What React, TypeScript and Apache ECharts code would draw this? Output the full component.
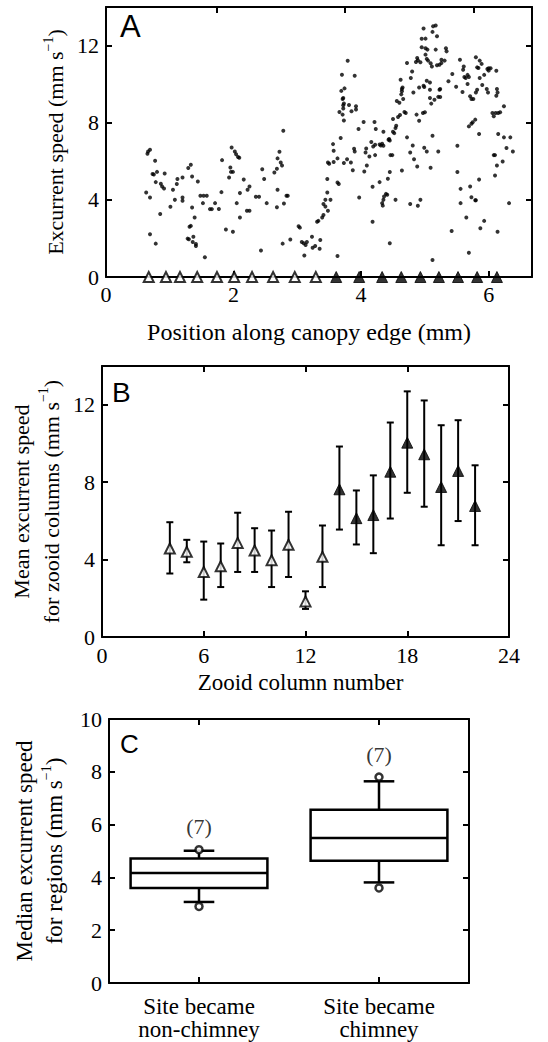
import React, { useEffect, useRef } from 'react';
import * as echarts from 'echarts';

const SERIF = 'Liberation Serif, serif';
const SANS = 'Liberation Sans, sans-serif';

// Panel A: excurrent speed vs position along canopy edge (mm, mm/s)
const scatterA: [number, number][] = [
  [0.66, 6.51], [0.69, 6.6], [0.65, 6.39], [0.77, 6.03], [0.73, 5.34], [0.75, 5.31], [0.8, 5.45], [0.92, 5.37], [0.78, 4.92], [0.86, 4.83],
  [0.88, 4.69], [0.91, 4.59], [0.63, 4.38], [0.69, 4.12], [1.05, 4.52], [1.11, 4.82], [1.12, 5.08], [1.2, 5.16], [1.29, 5.65], [1.33, 5.82],
  [1.35, 5.21], [1.44, 4.95], [1.08, 4.0], [1.2, 4.12], [1.2, 3.95], [1.01, 3.64], [0.85, 3.27], [1.48, 4.21], [1.53, 4.21], [1.58, 4.21],
  [1.52, 3.83], [1.63, 3.52], [1.66, 3.52], [1.71, 3.83], [1.77, 3.53], [1.35, 3.6], [1.39, 3.08], [1.31, 2.61], [1.33, 2.65], [0.69, 2.22],
  [0.78, 1.73], [1.28, 1.99], [1.3, 1.96], [1.37, 2.09], [1.41, 1.71], [1.36, 1.82], [1.41, 1.61], [1.55, 1.02],
  [1.81, 4.4], [1.82, 6.06], [1.88, 2.46], [1.93, 5.16], [1.95, 5.68], [1.96, 5.45], [1.99, 5.45], [1.97, 6.72], [2.02, 6.51], [2.04, 6.37],
  [2.07, 6.22], [2.09, 6.18], [1.99, 2.35], [2.05, 3.83], [2.1, 4.35], [2.1, 3.08], [2.16, 5.05], [2.21, 3.44], [2.25, 3.44], [2.22, 4.52],
  [2.25, 4.69], [2.35, 4.16], [2.4, 4.16], [2.43, 1.37], [2.45, 5.59], [2.48, 5.08], [2.52, 3.83], [2.64, 5.42], [2.68, 5.61], [2.69, 4.52],
  [2.69, 6.15], [2.72, 6.49], [2.74, 5.94], [2.76, 5.78], [2.78, 7.58], [2.68, 3.62], [2.79, 3.81], [2.83, 4.21], [2.85, 4.21], [2.77, 1.73],
  [2.89, 1.94], [3.02, 2.63], [3.04, 2.56], [3.07, 1.82], [3.1, 1.75], [3.13, 1.66], [3.15, 1.82], [3.11, 1.11], [3.23, 2.09], [3.24, 1.52],
  [3.28, 1.61], [3.35, 1.47], [3.36, 1.92], [3.31, 2.87], [3.33, 2.91], [3.39, 3.08], [3.41, 3.22], [3.41, 3.79], [3.44, 4.0], [3.48, 3.44],
  [3.47, 4.38], [3.47, 5.08], [3.48, 5.94], [3.5, 5.87], [3.44, 3.65],
  [3.52, 4.0], [3.57, 5.96], [3.57, 6.55], [3.56, 6.89], [3.63, 4.9], [3.65, 4.82], [3.63, 1.09], [3.63, 6.15], [3.68, 7.21], [3.73, 5.91],
  [3.78, 6.11], [3.84, 5.94], [3.87, 5.54], [3.66, 8.56], [3.71, 8.42], [3.72, 8.74], [3.72, 8.9], [3.73, 9.0], [3.71, 9.23], [3.72, 9.28],
  [3.69, 9.65], [3.74, 9.78], [3.7, 10.49], [3.79, 11.21], [3.9, 10.44], [3.73, 8.12], [3.81, 8.92], [3.85, 8.59], [3.92, 8.68], [3.92, 8.85],
  [3.89, 6.65], [3.9, 6.51], [3.96, 7.67], [4.04, 8.04], [3.97, 4.12], [4.05, 5.47], [4.07, 6.46], [4.08, 6.66], [4.09, 5.78], [4.13, 6.25],
  [4.16, 7.0], [4.18, 4.68], [4.18, 2.87], [4.19, 6.77], [4.22, 6.86], [4.22, 6.32], [4.21, 8.04], [4.23, 7.67], [4.29, 4.92], [4.29, 6.87],
  [4.31, 6.82], [4.33, 6.91], [4.35, 6.81], [4.33, 3.83], [4.35, 4.0], [4.34, 3.7], [4.36, 4.17], [4.39, 4.31], [4.41, 4.26], [4.42, 5.09],
  [4.35, 7.53], [4.43, 7.12], [4.44, 7.15], [4.45, 7.08], [4.46, 6.32], [4.49, 6.32], [4.45, 1.75], [4.45, 5.44], [4.5, 7.53], [4.52, 7.46],
  [4.5, 8.19], [4.54, 7.72], [4.55, 7.84], [4.54, 4.0], [4.58, 8.3], [4.56, 9.13], [4.6, 9.04], [4.61, 8.4], [4.64, 5.52], [4.63, 9.47],
  [4.64, 9.63], [4.65, 9.83], [4.62, 10.23], [4.64, 9.75], [4.66, 9.23], [4.68, 8.56], [4.7, 8.5], [4.72, 11.1], [4.78, 10.32], [4.8, 10.66],
  [4.72, 7.24], [4.77, 6.46], [4.81, 6.82], [4.77, 3.79], [4.83, 6.11], [4.82, 9.57], [4.86, 11.15], [4.89, 11.24], [4.88, 11.36], [4.91, 9.83],
  [4.87, 8.42], [4.88, 5.73], [4.91, 8.1], [4.93, 4.0], [4.89, 3.69], [4.93, 11.13], [4.95, 11.91], [4.98, 9.92], [4.99, 9.85], [4.97, 8.5],
  [5.0, 8.54], [4.98, 12.88], [5.01, 12.36], [4.95, 12.35], [5.01, 11.86], [5.04, 11.79], [5.01, 11.53], [5.03, 11.31], [5.05, 11.22], [4.99, 6.7],
  [5.03, 6.51], [5.03, 10.18], [5.09, 11.08], [5.11, 10.92], [5.08, 9.28], [5.15, 9.19], [5.09, 5.66], [5.12, 7.32], [5.12, 12.71], [5.13, 13.0],
  [5.17, 13.04], [5.19, 12.48], [5.17, 11.79], [5.21, 6.51], [5.12, 0.88], [5.19, 10.98], [5.21, 9.34], [5.23, 9.71],
  [5.33, 11.86], [5.34, 11.7], [5.23, 11.01], [5.26, 11.1], [5.26, 11.27], [5.31, 11.22], [5.37, 10.15], [5.43, 10.53], [5.49, 9.87], [5.55, 11.27],
  [5.61, 10.92], [5.6, 10.75], [5.62, 10.37], [5.64, 10.32], [5.67, 10.48], [5.69, 10.37], [5.59, 9.59], [5.67, 10.01], [5.8, 11.39], [5.86, 11.22],
  [5.89, 11.05], [5.82, 10.87], [5.84, 10.84], [5.93, 10.48], [5.98, 10.79], [6.0, 10.82], [6.03, 10.82], [6.0, 10.7], [6.12, 10.69], [5.86, 10.32],
  [5.9, 9.96], [5.82, 9.71], [5.8, 9.57], [5.71, 9.37], [5.73, 9.23], [5.76, 9.23], [5.97, 9.75], [5.99, 9.57], [6.13, 9.75], [6.14, 9.57],
  [6.12, 9.4], [5.24, 9.75], [5.24, 9.33], [5.1, 8.99], [6.06, 8.5], [6.08, 8.33], [6.11, 8.5], [6.15, 8.5], [6.18, 8.54], [6.24, 8.85],
  [5.69, 7.81], [5.73, 7.95], [5.75, 8.02], [5.79, 8.16], [5.85, 7.41], [6.15, 7.41], [6.24, 7.24], [6.34, 7.24], [6.28, 6.69], [6.38, 6.51],
  [5.51, 6.81], [6.08, 6.32], [6.1, 6.32], [6.22, 5.99], [6.13, 5.78], [5.51, 5.44], [6.1, 5.26], [5.85, 5.05], [5.56, 4.57], [5.71, 4.69],
  [5.73, 4.14], [5.79, 3.98], [5.8, 3.98], [5.56, 3.83], [6.32, 3.83], [5.65, 3.08], [5.93, 2.91], [5.87, 2.53], [5.42, 2.39], [6.14, 2.35],
  [5.69, 1.26], [5.08, 10.09], [5.08, 9.71],
];

// Zooid column positions along the canopy edge (mm); first 10 became non-chimney (open), rest chimney (filled)
const columnPositions = [0.67, 0.94, 1.16, 1.43, 1.74, 2.01, 2.29, 2.62, 2.96, 3.29, 3.61, 3.97, 4.33, 4.63, 4.93, 5.22, 5.52, 5.82, 6.13];
const openCount = 10;

// Panel B: mean excurrent speed per zooid column
const columnNumbers = [4, 5, 6, 7, 8, 9, 10, 11, 12, 13, 14, 15, 16, 17, 18, 19, 20, 21, 22];
const columnMeans = [4.57, 4.4, 3.36, 3.65, 4.86, 4.47, 3.97, 4.76, 1.84, 4.14, 7.63, 6.14, 6.3, 8.54, 10.04, 9.44, 7.75, 8.58, 6.77];
const columnUpper = [5.93, 5.02, 4.93, 4.83, 6.42, 5.62, 5.5, 6.47, 2.36, 5.76, 9.84, 7.57, 8.35, 11.08, 12.69, 12.22, 10.94, 11.2, 8.87];
const columnLower = [3.28, 3.86, 1.93, 2.58, 3.36, 3.36, 2.58, 3.1, 1.45, 2.58, 5.55, 4.78, 4.33, 6.12, 7.45, 6.73, 4.74, 5.99, 4.74];

// Panel C: median excurrent speed for regions
const regionCategories = ['Site became\nnon-chimney', 'Site became\nchimney'];
const boxWhiskerLow = [3.07, 3.81];
const boxQ1 = [3.6, 4.63];
const boxMedian = [4.17, 5.49];
const boxQ3 = [4.72, 6.56];
const boxWhiskerHigh = [5.01, 7.64];
const boxPointLow = [2.9, 3.6];
const boxPointHigh = [5.05, 7.8];
const boxCounts = ['(7)', '(7)'];
const boxCountLevel = [5.93, 8.65];

const AX_X_MAX_A = 6.68;
const topTicksA = [1.74, 3.75, 5.76];

const tickLabel = { fontFamily: SERIF, fontSize: 22, color: '#000' };
const nameStyle = { fontFamily: SERIF, fontSize: 23, color: '#000' };
function richName(size: number, lh: number) {
  return {
    t: { fontFamily: SERIF, fontSize: size, color: '#000', lineHeight: lh },
    s: { fontFamily: SERIF, fontSize: Math.round(size * 0.62), color: '#000', verticalAlign: 'top', lineHeight: lh },
  };
}
const axisLine = { show: true, onZero: false, lineStyle: { color: '#000', width: 2 } };
const tickIn = { show: true, inside: true, length: 6, lineStyle: { color: '#000', width: 2 } };

function valueAxis(grid: number, min: number, max: number, interval: number, extra: any = {}) {
  return {
    type: 'value',
    gridIndex: grid,
    min,
    max,
    interval,
    axisLine,
    axisTick: tickIn,
    splitLine: { show: false },
    axisLabel: { ...tickLabel, showMaxLabel: false },
    ...extra,
  };
}

function mirror(base: any, position: string) {
  return {
    ...base,
    position,
    name: '',
    axisLabel: { show: false },
  };
}

export default function App() {
  const ref = useRef<HTMLDivElement>(null);

  useEffect(() => {
    if (!ref.current) return;
    const chart = echarts.init(ref.current, null, { renderer: 'svg' });

    const xA = valueAxis(0, 0, AX_X_MAX_A, 2, {
      position: 'bottom',
      name: 'Position along canopy edge (mm)',
      nameLocation: 'middle',
      nameGap: 43,
      nameTextStyle: { ...nameStyle, fontSize: 24, padding: [0, 20, 0, 0] },
      axisLabel: { ...tickLabel, showMaxLabel: false, margin: 6 },
    });
    const xAtop = {
      ...mirror(xA, 'top'),
      axisTick: { ...tickIn, customValues: topTicksA },
    };
    const xB = valueAxis(1, 0, 24, 6, {
      position: 'bottom',
      name: 'Zooid column number',
      nameLocation: 'middle',
      nameGap: 34,
      nameTextStyle: { ...nameStyle, padding: [0, 10, 0, 0] },
      axisLabel: { ...tickLabel, showMaxLabel: true, margin: 7 },
    });
    const xC = {
      type: 'category',
      gridIndex: 2,
      position: 'bottom',
      data: regionCategories,
      axisLine,
      axisTick: { ...tickIn, alignWithLabel: true },
      axisLabel: { fontFamily: SERIF, fontSize: 23, color: '#000', lineHeight: 23, margin: 12 },
      splitLine: { show: false },
    };

    const yA = valueAxis(0, 0, 14, 4, {
      position: 'left',
      name: '{t|Excurrent speed (mm s}{s|−1}{t|)}',
      nameLocation: 'middle',
      nameGap: 35,
      nameTextStyle: { rich: richName(22, 28) },
      axisLabel: { ...tickLabel, showMaxLabel: false, margin: 7 },
    });
    const yB = valueAxis(1, 0, 14, 4, {
      position: 'left',
      name: '{t|Mean excurrent speed}\n{t|for zooid columns (mm s}{s|−1}{t|)}',
      nameLocation: 'middle',
      nameGap: 32,
      nameTextStyle: { rich: richName(22, 30) },
      axisLabel: { ...tickLabel, showMaxLabel: false, margin: 7 },
    });
    const yC = valueAxis(2, 0, 10, 2, {
      position: 'left',
      name: '{t|Median excurrent speed}\n{t|for regions (mm s}{s|−1}{t|)}',
      nameLocation: 'middle',
      nameGap: 40,
      nameTextStyle: { rich: richName(23, 30) },
      axisLabel: { ...tickLabel, showMaxLabel: true, margin: 7 },
    });

    const option: any = {
      animation: false,
      backgroundColor: '#fff',
      grid: [
        { left: 106, top: 7, width: 426, height: 270, containLabel: false },
        { left: 102, top: 366, width: 407, height: 271, containLabel: false },
        { left: 109, top: 719, width: 360, height: 264, containLabel: false },
      ],
      xAxis: [xA, xAtop, xB, mirror(xB, 'top'), xC, mirror(xC, 'top')],
      yAxis: [yA, mirror(yA, 'right'), yB, mirror(yB, 'right'), yC, mirror(yC, 'right')],
      graphic: [
        { type: 'text', left: 120, top: 11, style: { text: 'A', fontFamily: SANS, fontSize: 31, fill: '#000' } },
        { type: 'text', left: 112, top: 378, style: { text: 'B', fontFamily: SANS, fontSize: 28, fill: '#000' } },
        { type: 'text', left: 120, top: 731, style: { text: 'C', fontFamily: SANS, fontSize: 26, fill: '#000' } },
      ],
      series: [
        {
          type: 'scatter',
          xAxisIndex: 0,
          yAxisIndex: 0,
          data: scatterA,
          symbol: 'circle',
          symbolSize: 4,
          itemStyle: { color: '#000' },
          silent: true,
        },
        {
          type: 'scatter',
          xAxisIndex: 0,
          yAxisIndex: 0,
          data: columnPositions.slice(0, openCount).map((p) => [p, 0]),
          symbol: 'triangle',
          symbolSize: [10, 10],
          clip: false,
          z: 5,
          itemStyle: { color: '#fff', borderColor: '#000', borderWidth: 2 },
        },
        {
          type: 'scatter',
          xAxisIndex: 0,
          yAxisIndex: 0,
          data: columnPositions.slice(openCount).map((p) => [p, 0]),
          symbol: 'triangle',
          symbolSize: [11, 11],
          clip: false,
          z: 5,
          itemStyle: { color: '#000', borderColor: '#000', borderWidth: 1 },
        },
        {
          type: 'custom',
          xAxisIndex: 2,
          yAxisIndex: 2,
          data: columnNumbers.map((c, i) => [c, columnLower[i], columnUpper[i]]),
          encode: { x: 0, y: [1, 2] },
          renderItem: (params: any, api: any) => {
            const x = api.value(0);
            const lo = api.coord([x, api.value(1)]);
            const hi = api.coord([x, api.value(2)]);
            const hw = 3.5;
            const st = { stroke: '#000', lineWidth: 2 };
            return {
              type: 'group',
              children: [
                { type: 'line', shape: { x1: lo[0], y1: lo[1], x2: hi[0], y2: hi[1] }, style: st },
                { type: 'line', shape: { x1: lo[0] - hw, y1: lo[1], x2: lo[0] + hw, y2: lo[1] }, style: st },
                { type: 'line', shape: { x1: hi[0] - hw, y1: hi[1], x2: hi[0] + hw, y2: hi[1] }, style: st },
              ],
            };
          },
          z: 3,
        },
        {
          type: 'scatter',
          xAxisIndex: 2,
          yAxisIndex: 2,
          data: columnNumbers.slice(0, openCount).map((c, i) => [c, columnMeans[i]]),
          symbol: 'triangle',
          symbolSize: [10, 10],
          z: 5,
          itemStyle: { color: '#fff', borderColor: '#000', borderWidth: 2 },
        },
        {
          type: 'scatter',
          xAxisIndex: 2,
          yAxisIndex: 2,
          data: columnNumbers.slice(openCount).map((c, i) => [c, columnMeans[i + openCount]]),
          symbol: 'triangle',
          symbolSize: [11, 11],
          z: 5,
          itemStyle: { color: '#000', borderColor: '#000', borderWidth: 1 },
        },
        {
          type: 'custom',
          xAxisIndex: 4,
          yAxisIndex: 4,
          data: regionCategories.map((_, i) => [i, boxWhiskerLow[i], boxQ1[i], boxMedian[i], boxQ3[i], boxWhiskerHigh[i]]),
          encode: { x: 0, y: [1, 2, 3, 4, 5] },
          renderItem: (params: any, api: any) => {
            const idx = api.value(0);
            const lo = api.coord([idx, api.value(1)]);
            const q1 = api.coord([idx, api.value(2)]);
            const md = api.coord([idx, api.value(3)]);
            const q3 = api.coord([idx, api.value(4)]);
            const hi = api.coord([idx, api.value(5)]);
            const band = api.size([1, 0])[0];
            const hw = band * 0.38;
            const cw = band * 0.085;
            const x = md[0];
            const st = { stroke: '#000', lineWidth: 2.5 };
            return {
              type: 'group',
              children: [
                { type: 'line', shape: { x1: x, y1: q1[1], x2: x, y2: lo[1] }, style: st },
                { type: 'line', shape: { x1: x - cw, y1: lo[1], x2: x + cw, y2: lo[1] }, style: st },
                { type: 'line', shape: { x1: x, y1: q3[1], x2: x, y2: hi[1] }, style: st },
                { type: 'line', shape: { x1: x - cw, y1: hi[1], x2: x + cw, y2: hi[1] }, style: st },
                {
                  type: 'rect',
                  shape: { x: x - hw, y: q3[1], width: 2 * hw, height: q1[1] - q3[1] },
                  style: { stroke: '#000', lineWidth: 2.5, fill: '#fff' },
                },
                { type: 'line', shape: { x1: x - hw, y1: md[1], x2: x + hw, y2: md[1] }, style: st },
              ],
            };
          },
          z: 3,
        },
        {
          type: 'scatter',
          xAxisIndex: 4,
          yAxisIndex: 4,
          data: [
            ...regionCategories.map((_, i) => [i, boxPointLow[i]]),
            ...regionCategories.map((_, i) => [i, boxPointHigh[i]]),
          ],
          symbol: 'circle',
          symbolSize: 7,
          z: 6,
          itemStyle: { color: '#fff', borderColor: '#000', borderWidth: 2.5 },
        },
        {
          type: 'scatter',
          xAxisIndex: 4,
          yAxisIndex: 4,
          data: regionCategories.map((_, i) => [i, boxCountLevel[i]]),
          symbolSize: 1,
          itemStyle: { color: 'rgba(0,0,0,0)' },
          label: {
            show: true,
            position: 'inside',
            formatter: (p: any) => boxCounts[p.dataIndex],
            fontFamily: SERIF,
            fontSize: 22,
            color: '#000',
          },
        },
      ],
    };

    chart.setOption(option);
    return () => chart.dispose();
  }, []);

  return (
    <div
      ref={ref}
      style={{ position: 'fixed', left: 0, top: 0, width: 548, height: 1042, background: '#fff' }}
    />
  );
}
